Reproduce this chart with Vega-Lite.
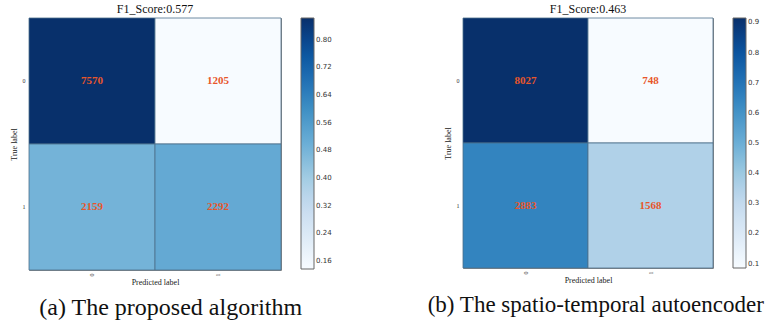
{
  "$schema": "https://vega.github.io/schema/vega-lite/v6.json",
  "padding": {"left": 9, "top": 2, "right": 0, "bottom": 2},
  "background": "white",
  "datasets": {
    "a": [
      {"actual": "0", "predicted": "0", "count": 7570, "norm": 0.8627},
      {"actual": "0", "predicted": "1", "count": 1205, "norm": 0.1373},
      {"actual": "1", "predicted": "0", "count": 2159, "norm": 0.4851},
      {"actual": "1", "predicted": "1", "count": 2292, "norm": 0.5149}
    ],
    "b": [
      {"actual": "0", "predicted": "0", "count": 8027, "norm": 0.9148},
      {"actual": "0", "predicted": "1", "count": 748, "norm": 0.0852},
      {"actual": "1", "predicted": "0", "count": 2883, "norm": 0.6477},
      {"actual": "1", "predicted": "1", "count": 1568, "norm": 0.3523}
    ]
  },
  "config": {
    "font": "Liberation Serif",
    "view": {"stroke": "#888888", "strokeWidth": 1},
    "axis": {
      "domain": false, "ticks": false, "grid": false,
      "labelFont": "Liberation Serif", "labelFontSize": 6, "labelColor": "#333",
      "titleFont": "Liberation Serif", "titleFontSize": 8, "titleFontWeight": "normal", "titleColor": "#222"
    },
    "legend": {
      "labelFont": "DejaVu Sans", "labelFontSize": 7, "labelColor": "#333",
      "gradientLength": 251, "gradientThickness": 13, "gradientStrokeColor": "#666", "gradientStrokeWidth": 1,
      "offset": 19, "padding": 0, "titlePadding": 0, "labelOffset": 3
    },
    "title": {"font": "Liberation Serif", "fontWeight": "normal", "color": "#111"}
  },
  "resolve": {"scale": {"color": "independent"}},
  "spacing": 92,
  "hconcat": [
    {
      "title": {"text": "(a)  The proposed algorithm", "orient": "bottom", "anchor": "middle", "font": "Liberation Serif", "fontSize": 24, "offset": 9},
      "vconcat": [
        {
          "title": {"text": "F1_Score:0.577", "font": "Liberation Serif", "fontSize": 12, "offset": 2},
          "data": {"name": "a"},
          "width": 252, "height": 252,
          "encoding": {
            "x": {"field": "predicted", "type": "ordinal", "title": "Predicted label",
                  "axis": {"labelAngle": -90, "labelPadding": 3, "titlePadding": 2}},
            "y": {"field": "actual", "type": "ordinal", "title": "True label",
                  "axis": {"labelAngle": 0, "labelPadding": 4, "titlePadding": 4}}
          },
          "layer": [
            {
              "mark": {"type": "rect", "stroke": "#4d6f8c", "strokeWidth": 0.8},
              "encoding": {
                "color": {"field": "norm", "type": "quantitative",
                  "scale": {"domain": [0.1373, 0.2280, 0.3186, 0.4093, 0.5000, 0.5907, 0.6814, 0.7720, 0.8627],
                            "range": ["#f7fbff", "#deebf7", "#c6dbef", "#9ecae1", "#6baed6", "#4292c6", "#2171b5", "#08519c", "#08306b"]},
                  "legend": {"title": null, "values": [0.16, 0.24, 0.32, 0.40, 0.48, 0.56, 0.64, 0.72, 0.80], "format": ".2f"}}
              }
            },
            {
              "mark": {"type": "text", "font": "Liberation Serif", "fontWeight": "bold", "fontSize": 11, "color": "#e8562a"},
              "encoding": {"text": {"field": "count", "type": "quantitative"}}
            }
          ]
        }
      ]
    },
    {
      "title": {"text": "(b)  The spatio-temporal autoencoder", "orient": "bottom", "anchor": "middle", "font": "Liberation Serif", "fontSize": 23, "offset": 9, "dx": -6},
      "vconcat": [
        {
          "title": {"text": "F1_Score:0.463", "font": "Liberation Serif", "fontSize": 12, "offset": 2},
          "data": {"name": "b"},
          "width": 250, "height": 250,
          "encoding": {
            "x": {"field": "predicted", "type": "ordinal", "title": "Predicted label",
                  "axis": {"labelAngle": -90, "labelPadding": 3, "titlePadding": 2}},
            "y": {"field": "actual", "type": "ordinal", "title": "True label",
                  "axis": {"labelAngle": 0, "labelPadding": 4, "titlePadding": 4}}
          },
          "layer": [
            {
              "mark": {"type": "rect", "stroke": "#4d6f8c", "strokeWidth": 0.8},
              "encoding": {
                "color": {"field": "norm", "type": "quantitative",
                  "scale": {"domain": [0.0852, 0.1889, 0.2926, 0.3963, 0.5000, 0.6037, 0.7074, 0.8111, 0.9148],
                            "range": ["#f7fbff", "#deebf7", "#c6dbef", "#9ecae1", "#6baed6", "#4292c6", "#2171b5", "#08519c", "#08306b"]},
                  "legend": {"title": null, "gradientLength": 250, "values": [0.1, 0.2, 0.3, 0.4, 0.5, 0.6, 0.7, 0.8, 0.9], "format": ".1f"}}
              }
            },
            {
              "mark": {"type": "text", "font": "Liberation Serif", "fontWeight": "bold", "fontSize": 11, "color": "#e8562a"},
              "encoding": {"text": {"field": "count", "type": "quantitative"}}
            }
          ]
        }
      ]
    }
  ]
}
